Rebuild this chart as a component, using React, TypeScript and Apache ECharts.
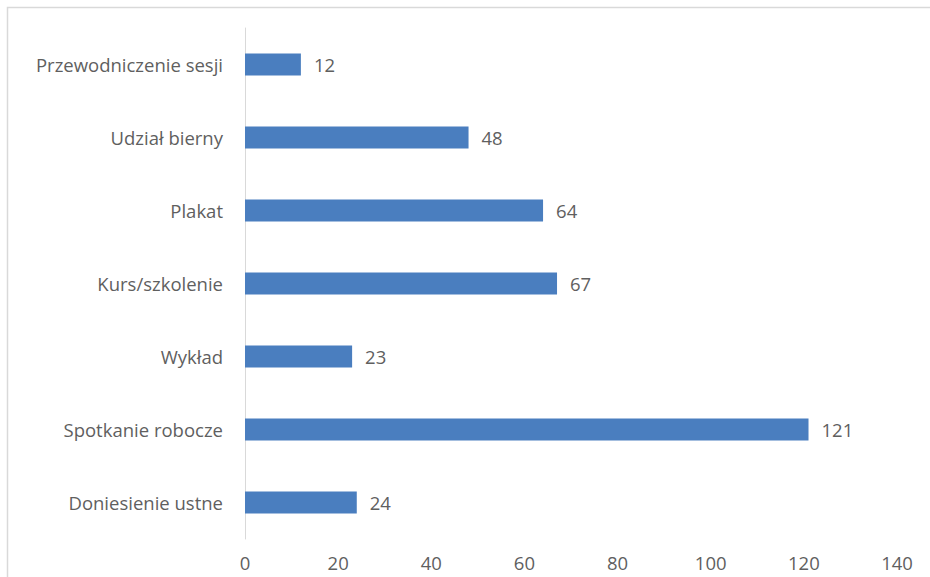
import React, { useEffect, useRef } from "react";
import * as echarts from "echarts";

const categories = [
  "Doniesienie ustne",
  "Spotkanie robocze",
  "Wykład",
  "Kurs/szkolenie",
  "Plakat",
  "Udział bierny",
  "Przewodniczenie sesji",
];
const values = [24, 121, 23, 67, 64, 48, 12];
const xTicks = { min: 0, max: 140, interval: 20 };

export default function App() {
  const ref = useRef<HTMLDivElement>(null);
  useEffect(() => {
    if (!ref.current) return;
    const chart = echarts.init(ref.current, null, { renderer: "svg" });
    const font = "'Open Sans', sans-serif";
    chart.setOption({
      animation: false,
      backgroundColor: "#ffffff",
      graphic: [
        {
          type: "rect",
          shape: { x: 7.5, y: 7.5, width: 940, height: 600 },
          style: { fill: "none", stroke: "#d9d9d9", lineWidth: 1.5 },
          silent: true,
        },
      ],
      grid: { left: 245, right: 33, top: 28, bottom: 38, containLabel: false },
      xAxis: {
        type: "value",
        min: xTicks.min,
        max: xTicks.max,
        interval: xTicks.interval,
        axisLine: { show: false },
        axisTick: { show: false },
        splitLine: { show: false },
        axisLabel: { color: "#5f5f5f", fontSize: 18.5, fontFamily: font, margin: 14 },
      },
      yAxis: {
        type: "category",
        data: categories,
        axisLine: { show: true, lineStyle: { color: "#d9d9d9", width: 1 } },
        axisTick: { show: false },
        axisLabel: { color: "#5f5f5f", fontSize: 18.5, fontFamily: font, margin: 22 },
      },
      series: [
        {
          type: "bar",
          data: values,
          barWidth: 22,
          itemStyle: { color: "#4a7ebf" },
          label: {
            show: true,
            position: "right",
            distance: 13,
            color: "#5f5f5f",
            fontSize: 18.5,
            fontFamily: font,
          },
        },
      ],
    });
    return () => chart.dispose();
  }, []);
  return (
    <div
      ref={ref}
      style={{ position: "fixed", left: 0, top: 0, width: 930, height: 577 }}
    />
  );
}
